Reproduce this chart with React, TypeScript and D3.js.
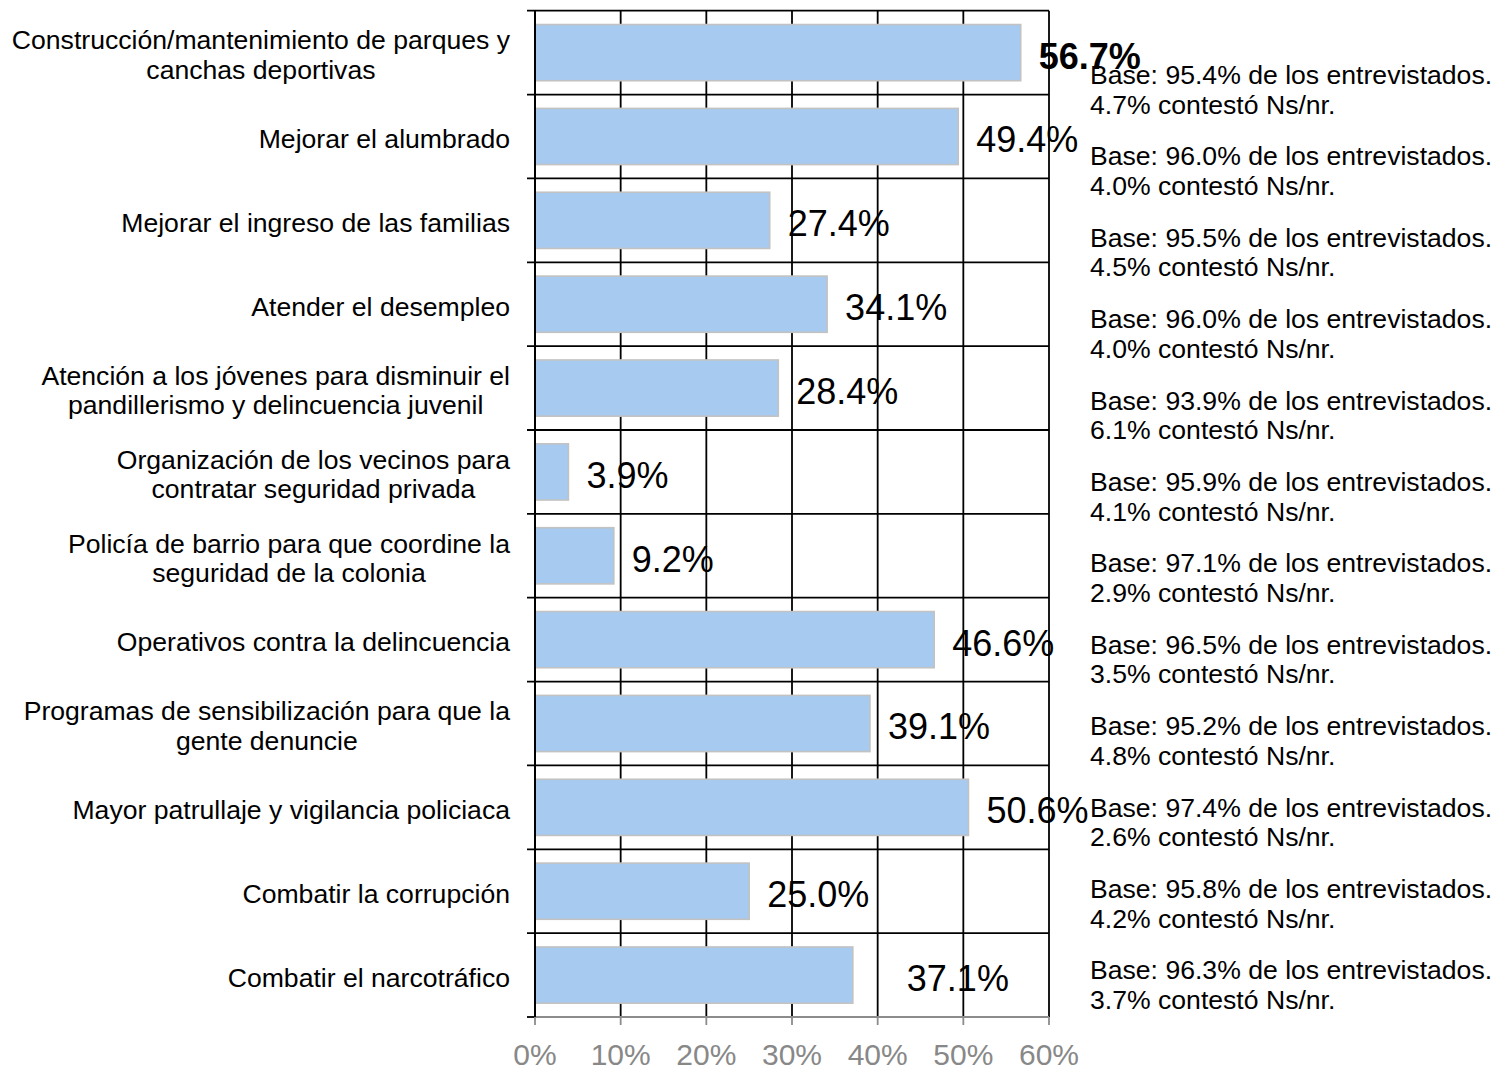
import React from "react";
import * as d3 from "d3";

const categoryLines: string[][] = [
  ["Construcción/mantenimiento de parques y", "canchas deportivas"],
  ["Mejorar el alumbrado"],
  ["Mejorar el ingreso de las familias"],
  ["Atender el desempleo"],
  ["Atención a los jóvenes para disminuir el", "pandillerismo y delincuencia juvenil"],
  ["Organización de los vecinos para", "contratar seguridad privada"],
  ["Policía de barrio para que coordine la", "seguridad de la colonia"],
  ["Operativos contra la delincuencia"],
  ["Programas de sensibilización para que la", "gente denuncie"],
  ["Mayor patrullaje y vigilancia policiaca"],
  ["Combatir la corrupción"],
  ["Combatir el narcotráfico"],
];
const values: number[] = [56.7, 49.4, 27.4, 34.1, 28.4, 3.9, 9.2, 46.6, 39.1, 50.6, 25.0, 37.1];
const baseValues: string[] = ["95.4", "96.0", "95.5", "96.0", "93.9", "95.9", "97.1", "96.5", "95.2", "97.4", "95.8", "96.3"];
const nsnrValues: string[] = ["4.7", "4.0", "4.5", "4.0", "6.1", "4.1", "2.9", "3.5", "4.8", "2.6", "4.2", "3.7"];
const xTicks: number[] = [0, 10, 20, 30, 40, 50, 60];

const FONT = "'Liberation Sans', Arial, Helvetica, sans-serif";

let ctx: CanvasRenderingContext2D | null = null;
function measure(text: string, size: number): number {
  if (!ctx) {
    const c = document.createElement("canvas");
    ctx = c.getContext("2d");
  }
  if (!ctx) return text.length * size * 0.5;
  ctx.font = `${size}px ${FONT}`;
  return ctx.measureText(text).width;
}

export default function App() {
  const W = 1496;
  const H = 1070;
  const left = 535;
  const right = 1049;
  const top = 10.7;
  const bottom = 1017;

  const ids = categoryLines.map((_, i) => String(i));
  const x = d3.scaleLinear().domain([0, 60]).range([left, right]);
  const y = d3
    .scaleBand<string>()
    .domain(ids)
    .range([top, bottom])
    .paddingInner(0.33)
    .paddingOuter(0.165);
  const step = y.step();
  const bandStart = (i: number) => top + i * step;
  const bandCenter = (i: number) => bandStart(i) + step / 2;

  const catSize = 26.6;
  const catRight = 510;
  const lineH = 29.5;

  const baseTop = 75;
  const baseStep = 81.4;

  return (
    <svg
      width={W}
      height={H}
      style={{ position: "absolute", left: 0, top: 0, background: "#fff" }}
      fontFamily={FONT}
    >
      {xTicks.map((t) => (
        <line key={"vg" + t} x1={x(t)} x2={x(t)} y1={top} y2={bottom} stroke="#000" strokeWidth={1.8} />
      ))}
      {d3.range(0, ids.length).map((i) => (
        <line
          key={"hg" + i}
          x1={left - 8}
          x2={right}
          y1={bandStart(i)}
          y2={bandStart(i)}
          stroke="#000"
          strokeWidth={1.8}
        />
      ))}
      {values.map((v, i) => (
        <rect
          key={"b" + i}
          x={x(0)}
          y={y(String(i))}
          width={x(v) - x(0)}
          height={y.bandwidth()}
          fill="#a6caf0"
          stroke="#c2c2c2"
          strokeWidth={1.6}
        />
      ))}
      <line x1={left} x2={right} y1={bottom} y2={bottom} stroke="#8c8c8c" strokeWidth={1.8} />
      <line x1={left - 8} x2={left} y1={bottom} y2={bottom} stroke="#000" strokeWidth={1.8} />
      {xTicks.map((t) => (
        <line key={"xt" + t} x1={x(t)} x2={x(t)} y1={bottom} y2={bottom + 8} stroke="#8c8c8c" strokeWidth={1.8} />
      ))}
      <line x1={left} x2={left} y1={top} y2={bottom} stroke="#000" strokeWidth={2} />
      {xTicks.map((t) => (
        <text key={"xl" + t} x={x(t)} y={1065} textAnchor="middle" fontSize={30} fill="#888">
          {t + "%"}
        </text>
      ))}
      {categoryLines.map((lines, i) => {
        const widths = lines.map((l) => measure(l, catSize));
        const maxW = Math.max(...widths);
        const cx = catRight - maxW / 2;
        const c = bandCenter(i) + 2.5;
        const y0 = c - ((lines.length - 1) * lineH) / 2;
        return (
          <g key={"cl" + i}>
            {lines.map((l, j) => (
              <text
                key={j}
                x={cx}
                y={y0 + j * lineH}
                textAnchor="middle"
                dominantBaseline="central"
                fontSize={catSize}
                fill="#000"
              >
                {l}
              </text>
            ))}
          </g>
        );
      })}
      {values.map((v, i) => (
        <text
          key={"vl" + i}
          x={x(v) + (i === values.length - 1 ? 54 : 18)}
          y={bandCenter(i) + 16}
          fontSize={36}
          fontWeight={i === 0 ? "bold" : "normal"}
          fill="#000"
        >
          {v.toFixed(1) + "%"}
        </text>
      ))}
      {baseValues.map((b, i) => {
        const cy = baseTop + i * baseStep;
        return (
          <g key={"bn" + i}>
            <text x={1090} y={cy} dominantBaseline="central" fontSize={catSize} fill="#000">
              {`Base: ${b}% de los entrevistados.`}
            </text>
            <text x={1090} y={cy + 29.5} dominantBaseline="central" fontSize={catSize} fill="#000">
              {`${nsnrValues[i]}% contestó Ns/nr.`}
            </text>
          </g>
        );
      })}
    </svg>
  );
}
